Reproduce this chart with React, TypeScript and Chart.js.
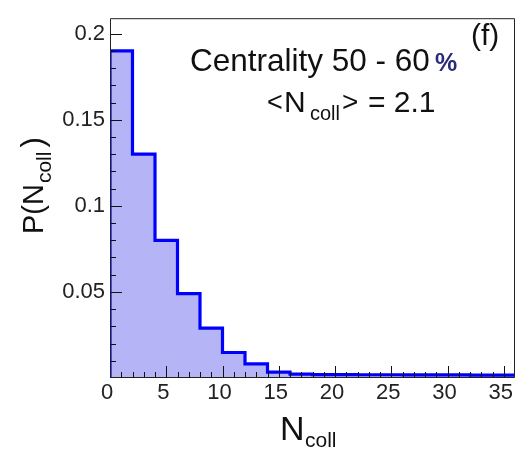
import React, { useEffect, useRef } from "react";
import { Chart, registerables } from "chart.js";

Chart.register(...registerables);

// ---- data ----
const binEdges = [0, 2, 4, 6, 8, 10, 12, 14, 16, 18, 20, 22, 24, 26, 28, 30, 32, 34];
const binWidth = 2;
const probabilities = [
  0.19, 0.13, 0.08, 0.049, 0.029, 0.0148, 0.0082, 0.0034, 0.0022, 0.002, 0.002, 0.0019,
  0.0019, 0.0018, 0.0018, 0.0018, 0.0017, 0.0017,
];
const xTickValues = [0, 5, 10, 15, 20, 25, 30, 35];
const yTickValues = [0.05, 0.1, 0.15, 0.2];
const xMinorStep = 1;
const yMinorStep = 0.01;
const xRange = [0, 36];
const yRange = [0, 0.209];

const FONT = '"Liberation Sans", Arial, Helvetica, sans-serif';

function histogramPoints() {
  const pts: { x: number; y: number }[] = [{ x: binEdges[0], y: 0 }];
  binEdges.forEach((e, i) => pts.push({ x: e, y: probabilities[i] }));
  const last = binEdges.length - 1;
  pts.push({ x: binEdges[last] + binWidth, y: probabilities[last] });
  return pts;
}

const framePlugin = {
  id: "frameAndText",
  afterDatasetsDraw(chart: any) {
    const { ctx, chartArea: a, scales } = chart;
    const xs = scales.x;
    const ys = scales.y;
    ctx.save();
    // inner ticks
    ctx.strokeStyle = "#111";
    ctx.lineWidth = 1;
    ctx.beginPath();
    const nx = Math.round((xRange[1] - xRange[0]) / xMinorStep);
    for (let i = 1; i < nx; i++) {
      const v = xRange[0] + i * xMinorStep;
      const px = Math.round(xs.getPixelForValue(v)) + 0.5;
      const len = v % 5 === 0 ? 12 : 6;
      ctx.moveTo(px, a.bottom);
      ctx.lineTo(px, a.bottom - len);
    }
    const ny = Math.floor((yRange[1] - yRange[0]) / yMinorStep + 1e-6);
    for (let i = 1; i <= ny; i++) {
      const v = yRange[0] + i * yMinorStep;
      const py = Math.round(ys.getPixelForValue(v)) + 0.5;
      const len = i % 5 === 0 ? 12 : 6;
      ctx.moveTo(a.left, py);
      ctx.lineTo(a.left + len, py);
    }
    ctx.stroke();
    // frame
    ctx.beginPath();
    ctx.strokeStyle = "#222";
    ctx.rect(a.left + 0.5, a.top + 0.5, a.right - a.left - 1, a.bottom - a.top - 1);
    ctx.stroke();
    ctx.restore();
  },
  afterDraw(chart: any) {
    const { ctx } = chart;
    ctx.save();
    ctx.textBaseline = "alphabetic";
    ctx.textAlign = "left";
    ctx.fillStyle = "#111";

    // annotations
    ctx.font = `31.5px ${FONT}`;
    ctx.fillText("Centrality 50 - 60", 190, 71);
    ctx.fillStyle = "#2a2a78";
    ctx.font = `bold 25px ${FONT}`;
    ctx.fillText("%", 435, 71);
    ctx.fillStyle = "#111";

    ctx.font = `30px ${FONT}`;
    ctx.fillText("(f)", 471, 45);

    ctx.font = `27px ${FONT}`;
    ctx.fillText("<", 267, 111);
    ctx.font = `30px ${FONT}`;
    ctx.fillText("N", 284, 112);
    ctx.font = `20px ${FONT}`;
    ctx.fillText("coll", 310, 120);
    ctx.font = `28px ${FONT}`;
    ctx.fillText(">", 342, 111);
    ctx.font = `30px ${FONT}`;
    ctx.fillText("= 2.1", 368, 112);

    // x title
    ctx.font = `34px ${FONT}`;
    ctx.fillText("N", 280, 440);
    ctx.font = `21px ${FONT}`;
    ctx.fillText("coll", 305, 447);

    // y title
    ctx.translate(43, 234);
    ctx.rotate(-Math.PI / 2);
    ctx.font = `29px ${FONT}`;
    ctx.fillText("P(N", 0, 0);
    let w = ctx.measureText("P(N").width;
    ctx.font = `21px ${FONT}`;
    ctx.fillText("coll", w + 1, 8);
    w += ctx.measureText("coll").width + 5;
    ctx.font = `31px ${FONT}`;
    ctx.fillText(")", w, 0);
    ctx.restore();
  },
};

export default function App() {
  const ref = useRef<HTMLCanvasElement | null>(null);
  useEffect(() => {
    if (!ref.current) return;
    const chart = new Chart(ref.current, {
      type: "line",
      data: {
        datasets: [
          {
            data: histogramPoints(),
            stepped: "before",
            borderColor: "#0000ff",
            borderWidth: 3.2,
            backgroundColor: "#b4b4f6",
            fill: "origin",
            pointRadius: 0,
            tension: 0,
          },
        ],
      },
      options: {
        animation: false,
        responsive: false,
        layout: { padding: { top: 10, right: 15, left: 0, bottom: 0 } },
        plugins: { legend: { display: false }, tooltip: { enabled: false } },
        scales: {
          x: {
            type: "linear",
            min: xRange[0],
            max: xRange[1],
            afterFit: (s: any) => {
              s.height = 72;
            },
            afterBuildTicks: (axis: any) => {
              axis.ticks = xTickValues.map((v) => ({ value: v }));
            },
            grid: { display: false, drawTicks: false },
            border: { display: false },
            ticks: {
              padding: 2,
              labelOffset: -3,
              maxRotation: 0,
              autoSkip: false,
              color: "#222",
              font: { family: FONT, size: 22 },
              callback: (v: any) => String(v),
            },
          },
          y: {
            type: "linear",
            min: yRange[0],
            max: yRange[1],
            afterFit: (s: any) => {
              s.width = 110;
            },
            afterBuildTicks: (axis: any) => {
              axis.ticks = yTickValues.map((v) => ({ value: v }));
            },
            grid: { display: false, drawTicks: false },
            border: { display: false },
            ticks: {
              padding: 5,
              autoSkip: false,
              color: "#222",
              font: { family: FONT, size: 22 },
              callback: (v: any) => String(Number(Number(v).toFixed(2))),
            },
          },
        },
      },
      plugins: [framePlugin],
    } as any);
    return () => chart.destroy();
  }, []);
  return (
    <div style={{ position: "absolute", left: 0, top: 0, width: 530, height: 450, background: "#fff" }}>
      <canvas ref={ref} width={530} height={450} style={{ display: "block" }} />
    </div>
  );
}
